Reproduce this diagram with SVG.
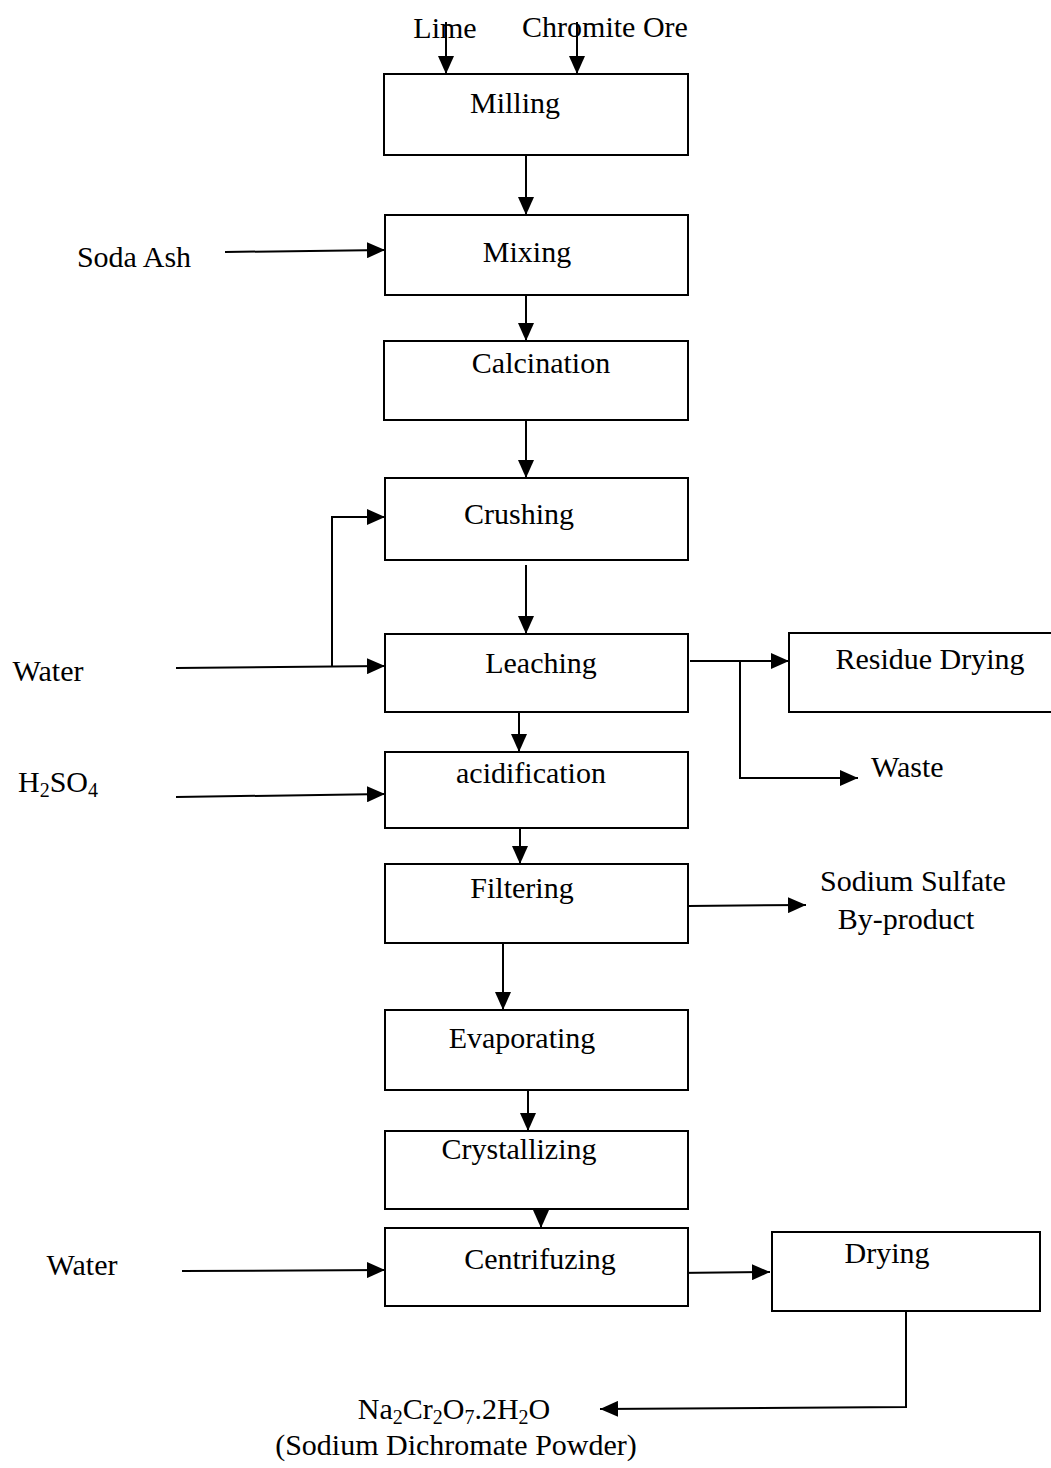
<svg xmlns="http://www.w3.org/2000/svg" width="1051" height="1468" viewBox="0 0 1051 1468">
<style>
.box{fill:#fff;stroke:#000;stroke-width:2}
.t{font-family:"Liberation Serif","Times New Roman",serif;font-size:30px;fill:#000}
.c{text-anchor:middle}
.ln{fill:none;stroke:#000;stroke-width:2}
.sub{font-size:20px}
</style>
<defs>
<marker id="ah" markerUnits="userSpaceOnUse" markerWidth="18" markerHeight="16" refX="18" refY="8" orient="auto">
<path d="M0,0 L18,8 L0,16 Z" fill="#000"/>
</marker>
</defs>
<rect width="1051" height="1468" fill="#fff"/>
<g id="connectors">
<line class="ln" x1="446" y1="22" x2="446" y2="74" marker-end="url(#ah)"/>
<line class="ln" x1="577" y1="22" x2="577" y2="74" marker-end="url(#ah)"/>
<line class="ln" x1="526" y1="155" x2="526" y2="215" marker-end="url(#ah)"/>
<line class="ln" x1="225" y1="252" x2="385" y2="250" marker-end="url(#ah)"/>
<line class="ln" x1="526" y1="295" x2="526" y2="341" marker-end="url(#ah)"/>
<line class="ln" x1="526" y1="420" x2="526" y2="478" marker-end="url(#ah)"/>
<line class="ln" x1="526" y1="565" x2="526" y2="634" marker-end="url(#ah)"/>
<line class="ln" x1="176" y1="668" x2="385" y2="666" marker-end="url(#ah)"/>
<polyline class="ln" points="332,667 332,517 385,517" marker-end="url(#ah)"/>
<line class="ln" x1="690" y1="661" x2="789" y2="661" marker-end="url(#ah)"/>
<polyline class="ln" points="740,661 740,778 858,778" marker-end="url(#ah)"/>
<line class="ln" x1="519" y1="712" x2="519" y2="752" marker-end="url(#ah)"/>
<line class="ln" x1="176" y1="797" x2="385" y2="794" marker-end="url(#ah)"/>
<line class="ln" x1="520" y1="828" x2="520" y2="864" marker-end="url(#ah)"/>
<line class="ln" x1="688" y1="906" x2="806" y2="905" marker-end="url(#ah)"/>
<line class="ln" x1="503" y1="943" x2="503" y2="1010" marker-end="url(#ah)"/>
<line class="ln" x1="528" y1="1090" x2="528" y2="1131" marker-end="url(#ah)"/>
<line class="ln" x1="541" y1="1209" x2="541" y2="1228" marker-end="url(#ah)"/>
<line class="ln" x1="182" y1="1271" x2="385" y2="1270" marker-end="url(#ah)"/>
<line class="ln" x1="676" y1="1273" x2="770" y2="1272" marker-end="url(#ah)"/>
<polyline class="ln" points="906,1311 906,1407 600,1409" marker-end="url(#ah)"/>
</g>
<g id="milling"><rect class="box" x="384" y="74" width="304" height="81"/><text class="t c" x="515" y="113">Milling</text></g>
<g id="mixing"><rect class="box" x="385" y="215" width="303" height="80"/><text class="t c" x="527" y="262">Mixing</text></g>
<g id="calcination"><rect class="box" x="384" y="341" width="304" height="79"/><text class="t c" x="541" y="373">Calcination</text></g>
<g id="crushing"><rect class="box" x="385" y="478" width="303" height="82"/><text class="t c" x="519" y="524">Crushing</text></g>
<g id="leaching"><rect class="box" x="385" y="634" width="303" height="78"/><text class="t c" x="541" y="673">Leaching</text></g>
<g id="residue-drying"><rect class="box" x="789" y="633" width="270" height="79"/><text class="t c" x="930" y="669">Residue Drying</text></g>
<g id="acidification"><rect class="box" x="385" y="752" width="303" height="76"/><text class="t c" x="531" y="783">acidification</text></g>
<g id="filtering"><rect class="box" x="385" y="864" width="303" height="79"/><text class="t c" x="522" y="898">Filtering</text></g>
<g id="evaporating"><rect class="box" x="385" y="1010" width="303" height="80"/><text class="t c" x="522" y="1048">Evaporating</text></g>
<g id="crystallizing"><rect class="box" x="385" y="1131" width="303" height="78"/><text class="t c" x="519" y="1159">Crystallizing</text></g>
<g id="centrifuzing"><rect class="box" x="385" y="1228" width="303" height="78"/><text class="t c" x="540" y="1269">Centrifuzing</text></g>
<g id="drying"><rect class="box" x="772" y="1232" width="268" height="79"/><text class="t c" x="887" y="1263">Drying</text></g>
<g id="labels">
<text class="t c" x="445" y="38">Lime</text>
<text class="t c" x="605" y="37">Chromite Ore</text>
<text class="t c" x="134" y="267">Soda Ash</text>
<text class="t c" x="48" y="681">Water</text>
<text class="t" x="18" y="792">H<tspan class="sub" dy="5">2</tspan><tspan dy="-5">SO</tspan><tspan class="sub" dy="5">4</tspan></text>
<text class="t" x="871" y="777">Waste</text>
<text class="t c" x="913" y="891">Sodium Sulfate</text>
<text class="t c" x="906" y="929">By-product</text>
<text class="t c" x="82" y="1275">Water</text>
<text class="t c" x="454" y="1419">Na<tspan class="sub" dy="5">2</tspan><tspan dy="-5">Cr</tspan><tspan class="sub" dy="5">2</tspan><tspan dy="-5">O</tspan><tspan class="sub" dy="5">7</tspan><tspan dy="-5">.2H</tspan><tspan class="sub" dy="5">2</tspan><tspan dy="-5">O</tspan></text>
<text class="t c" x="456" y="1455">(Sodium Dichromate Powder)</text>
</g>
</svg>
